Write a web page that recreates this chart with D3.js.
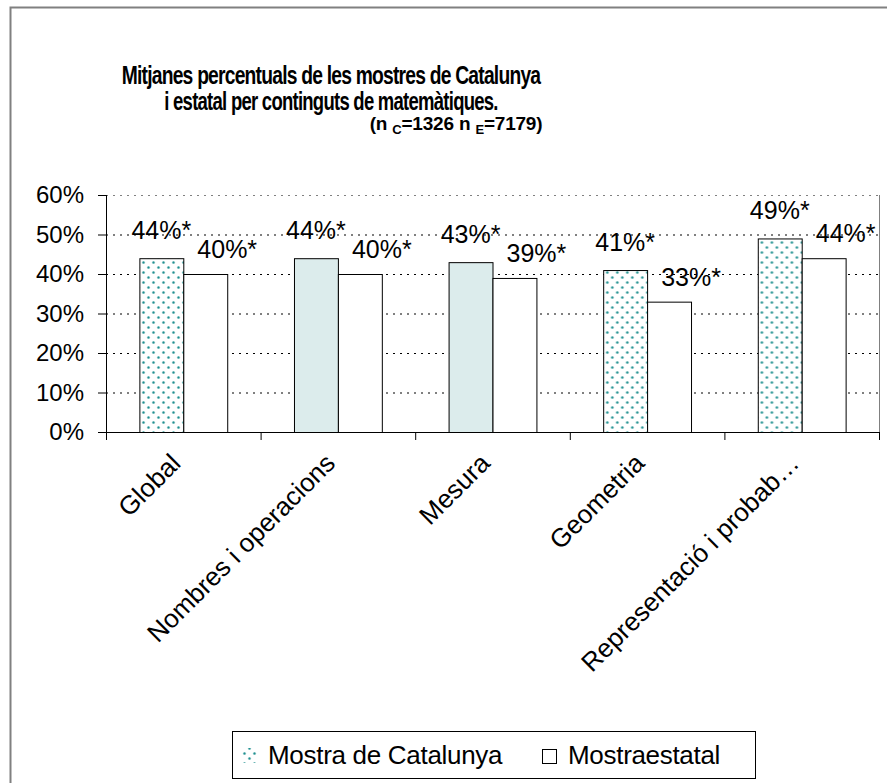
<!DOCTYPE html>
<html>
<head>
<meta charset="utf-8">
<script src="https://cdn.jsdelivr.net/npm/d3@7"></script>
<style>
  body { margin: 0; background: #fff; }
  text { font-family: Arial, "Liberation Sans", sans-serif; }
</style>
</head>
<body>
<svg id="chart" width="887" height="783"></svg>
<script>
// data
const categories = ["Global", "Nombres i operacions", "Mesura", "Geometria", "Representació i probab…"];
const seriesNames = ["Mostra de Catalunya", "Mostra estatal"];
const catalunya = [44, 44, 43, 41, 49];
const estatal = [40, 40, 39, 33, 44];
const solidCats = ["Nombres i operacions", "Mesura"]; // plain light fill in the original
const yTicks = [0, 10, 20, 30, 40, 50, 60];

const data = categories.map((c, i) => ({
    cat: c,
    values: [
        { s: seriesNames[0], v: catalunya[i] },
        { s: seriesNames[1], v: estatal[i] }
    ]
}));

const svg = d3.select("#chart");
const margin = { top: 195, right: 8, bottom: 351, left: 106 };
const width = +svg.attr("width") - margin.left - margin.right;
const height = +svg.attr("height") - margin.top - margin.bottom;

// dotted pattern
const defs = svg.append("defs");
const pat = defs.append("pattern")
    .attr("id", "dots")
    .attr("patternUnits", "userSpaceOnUse")
    .attr("width", 10).attr("height", 10);
pat.append("rect").attr("width", 10).attr("height", 10).attr("fill", "#fff");
[[2.5, 2.5], [7.5, 7.5]].forEach(p => {
    pat.append("circle").attr("cx", p[0]).attr("cy", p[1]).attr("r", 1.6).attr("fill", "#9fd0d0");
    pat.append("circle").attr("cx", p[0]).attr("cy", p[1]).attr("r", 1).attr("fill", "#1f9090");
});

// outer border
svg.append("rect")
    .attr("x", 10.5).attr("y", 7.5)
    .attr("width", 890).attr("height", 790)
    .attr("fill", "none").attr("stroke", "#808080").attr("stroke-width", 2);

// title (glyphs are narrow in the original, so squeeze horizontally)
const title = svg.append("g").attr("font-weight", "bold").attr("text-anchor", "middle");
title.append("text")
    .attr("transform", "translate(331,84) scale(0.77,1)")
    .attr("font-size", 25).attr("letter-spacing", -1)
    .text("Mitjanes percentuals de les mostres de Catalunya");
title.append("text")
    .attr("transform", "translate(331,110) scale(0.74,1)")
    .attr("font-size", 25).attr("letter-spacing", -1)
    .text("i estatal per continguts de matemàtiques.");
const sub = title.append("text").attr("x", 456).attr("y", 130)
    .attr("font-size", 19).attr("letter-spacing", -0.2);
sub.append("tspan").text("(n ");
sub.append("tspan").attr("font-size", 13).attr("dy", 4).text("C");
sub.append("tspan").attr("dy", -4).text("=1326 n ");
sub.append("tspan").attr("font-size", 13).attr("dy", 4).text("E");
sub.append("tspan").attr("dy", -4).text("=7179)");

const chart = svg.append("g")
    .attr("transform", `translate(${margin.left},${margin.top})`);

// scales
const x = d3.scaleBand()
    .domain(categories)
    .range([0, width])
    .padding(0);

const xs = d3.scaleBand()
    .domain(seriesNames)
    .range([0, x.bandwidth()])
    .paddingInner(0)
    .paddingOuter(0.76);

const y = d3.scaleLinear()
    .domain([0, 60])
    .range([height, 0]);

// gridlines
chart.append("g")
    .selectAll("line")
    .data(yTicks.filter(t => t > 0))
    .enter()
    .append("line")
    .attr("x1", 0).attr("x2", width)
    .attr("y1", d => y(d) + 0.5).attr("y2", d => y(d) + 0.5)
    .attr("stroke", d => d === 60 ? "#808080" : "#000")
    .attr("stroke-dasharray", "2,5");

// right border of plot area
chart.append("line")
    .attr("x1", width + 0.5).attr("x2", width + 0.5)
    .attr("y1", 0).attr("y2", height)
    .attr("stroke", "#808080");

// bars
const groups = chart.selectAll(".cat")
    .data(data)
    .enter()
    .append("g")
    .attr("class", "cat")
    .attr("transform", d => `translate(${x(d.cat)},0)`);

groups.selectAll("rect")
    .data(d => d.values.map(v => ({ ...v, cat: d.cat })))
    .enter()
    .append("rect")
    .attr("x", d => xs(d.s) + 0.5)
    .attr("y", d => y(d.v) + 0.5)
    .attr("width", xs.bandwidth())
    .attr("height", d => height - y(d.v))
    .attr("fill", d => d.s === seriesNames[1] ? "#fff" : (solidCats.includes(d.cat) ? "#dcecec" : "url(#dots)"))
    .attr("stroke", "#000")
    .attr("stroke-width", 1);

// value labels
groups.selectAll(".label")
    .data(d => d.values)
    .enter()
    .append("text")
    .attr("class", "label")
    .attr("x", (d, i) => i === 0 ? xs(d.s) + xs.bandwidth() / 2 : xs(d.s) + xs.bandwidth())
    .attr("y", (d, i) => y(d.v) - (i === 0 ? 19 : 16))
    .attr("text-anchor", "middle")
    .attr("font-size", 25)
    .text(d => d.v + "%*");

// y axis
const yAxis = d3.axisLeft(y)
    .tickValues(yTicks)
    .tickSize(8)
    .tickPadding(14)
    .tickFormat(d => d + "%");

chart.append("g")
    .attr("class", "axis")
    .call(yAxis)
    .call(g => g.select(".domain").attr("d", `M0.5,0V${height}`))
    .call(g => g.selectAll("text").attr("font-size", 24).attr("font-family", "Arial, 'Liberation Sans', sans-serif").attr("fill", "#000"));

// x axis
const xAxis = d3.axisBottom(x)
    .tickSize(0)
    .tickFormat("");

chart.append("g")
    .attr("transform", `translate(0,${height})`)
    .call(xAxis)
    .call(g => g.select(".domain").attr("d", `M0,0.5H${width}`))
    .call(g => g.selectAll(".tick").remove());

// category boundary ticks
chart.append("g")
    .selectAll("line")
    .data(categories.map(c => x(c)).concat([width]))
    .enter()
    .append("line")
    .attr("x1", d => d + 0.5).attr("x2", d => d + 0.5)
    .attr("y1", height).attr("y2", height + 8)
    .attr("stroke", "#000");

// category labels
chart.append("g")
    .selectAll("text")
    .data(categories)
    .enter()
    .append("text")
    .attr("transform", d => `translate(${x(d) + x.bandwidth() / 2 - 14},${height + 20}) rotate(-45)`)
    .attr("text-anchor", "end")
    .attr("dy", "0.7em")
    .attr("font-size", 26)
    .text(d => d);

// legend
const legend = svg.append("g").attr("transform", "translate(232,731)");
legend.append("rect")
    .attr("x", 0.5).attr("y", 0.5)
    .attr("width", 523).attr("height", 47)
    .attr("fill", "#fff").attr("stroke", "#000");

legend.append("rect")
    .attr("x", 10).attr("y", 17).attr("width", 15).attr("height", 15)
    .attr("fill", "url(#dots)");
legend.append("text")
    .attr("x", 36).attr("y", 33)
    .attr("font-size", 26).attr("letter-spacing", -0.3)
    .text(seriesNames[0]);

legend.append("rect")
    .attr("x", 310.5).attr("y", 18.5).attr("width", 14).attr("height", 14)
    .attr("fill", "#fff").attr("stroke", "#000");
legend.append("text")
    .attr("x", 336).attr("y", 33)
    .attr("font-size", 26).attr("letter-spacing", -0.3).attr("word-spacing", -7)
    .text(seriesNames[1]);
</script>
</body>
</html>
